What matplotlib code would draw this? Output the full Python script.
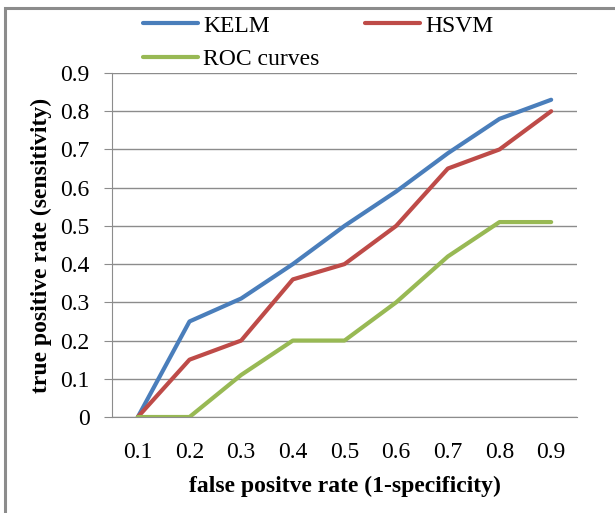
import matplotlib
matplotlib.use("Agg")
import matplotlib.pyplot as plt
from matplotlib.patches import Rectangle

plt.rcParams['font.family'] = ['Liberation Serif', 'DejaVu Serif']

fpr = ["0.1", "0.2", "0.3", "0.4", "0.5", "0.6", "0.7", "0.8", "0.9"]
kelm = [0, 0.25, 0.31, 0.40, 0.50, 0.59, 0.69, 0.78, 0.83]
hsvm = [0, 0.15, 0.20, 0.36, 0.40, 0.50, 0.65, 0.70, 0.80]
roc = [0, 0, 0.11, 0.20, 0.20, 0.30, 0.42, 0.51, 0.51]

W, H = 615, 513
fs = 17
fig = plt.figure(figsize=(W / 100, H / 100), dpi=100)
ax = fig.add_axes((112 / W, 1 - 417 / H, 465 / W, 344 / H))

# outer chart border (only left/top visible in the crop)
fig.patches.append(Rectangle((5 / W, -0.1), 1.2, 1 - 8 / H + 0.1, transform=fig.transFigure,
                             fill=False, edgecolor='#8c8c8c', lw=2.2))

x = range(len(fpr))
l1, = ax.plot(x, kelm, color='#4A7EBB', lw=3, label='KELM', solid_capstyle='round')
l2, = ax.plot(x, hsvm, color='#BE4B48', lw=3, label='HSVM', solid_capstyle='round')
l3, = ax.plot(x, roc, color='#98B954', lw=3, label='ROC curves', solid_capstyle='round')

ax.set_xlim(-0.5, len(fpr) - 0.5)
ax.set_ylim(0, 0.9)
ax.set_yticks([i / 10 for i in range(10)])
ax.set_yticklabels(['0'] + ['%.1f' % (i / 10) for i in range(1, 10)])
ax.set_xticks(list(x))
ax.set_xticklabels(fpr)
ax.grid(axis='y', color='#8c8c8c', lw=1)
ax.set_axisbelow(True)
for s in ['top', 'right']:
    ax.spines[s].set_visible(False)
ax.spines['left'].set_color('#8c8c8c')
ax.spines['bottom'].set_color('#8c8c8c')
ax.tick_params(axis='y', direction='out', length=6, color='#8c8c8c', labelsize=fs, pad=10)
ax.tick_params(axis='x', length=0, labelsize=fs, pad=18)

ax.set_xlabel('false positve rate (1-specificity)', fontsize=fs, fontweight='bold', labelpad=9)
ax.set_ylabel('true positive rate (sensitivity)', fontsize=fs, fontweight='bold', labelpad=6)

fig.legend([l1, l3, l2], ['KELM', 'ROC curves', 'HSVM'], loc='upper left',
           bbox_to_anchor=(143 / W, 1 - 15 / H), ncol=2, frameon=False,
           fontsize=fs, handlelength=2.33, handletextpad=0.21, columnspacing=1.95,
           labelspacing=0.5, borderpad=0, borderaxespad=0)

fig.savefig('out.png', dpi=100)
